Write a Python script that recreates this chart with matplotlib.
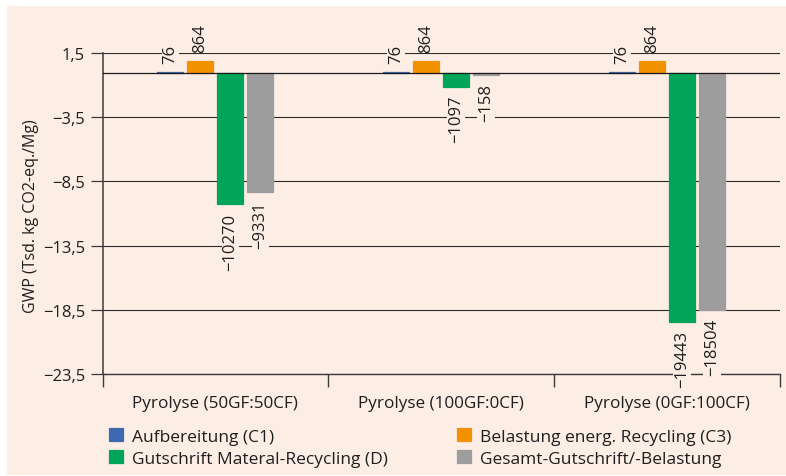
import matplotlib
matplotlib.use("Agg")
import matplotlib.pyplot as plt
from matplotlib.patches import Rectangle
import numpy as np

plt.rcParams['font.family'] = ['Open Sans', 'DejaVu Sans']

categories = ["Pyrolyse (50GF:50CF)", "Pyrolyse (100GF:0CF)", "Pyrolyse (0GF:100CF)"]
series_names = ["Aufbereitung (C1)", "Belastung energ. Recycling (C3)",
                "Gutschrift Materal-Recycling (D)", "Gesamt-Gutschrift/-Belastung"]
aufbereitung = [76, 76, 76]
belastung = [864, 864, 864]
gutschrift = [-10270, -1097, -19443]
gesamt = [-9331, -158, -18504]
yticks = [1.5, -3.5, -8.5, -13.5, -18.5, -23.5]

series = [aufbereitung, belastung, gutschrift, gesamt]
colors = ["#3e68b0", "#f39200", "#00a55a", "#9d9d9d"]
bg = "#fdeee5"
txt = "#1e1e1e"

fig = plt.figure(figsize=(7.86, 4.77), dpi=100)
fig.patch.set_facecolor("white")
fig.patches.append(Rectangle((7/786, 1/477), 1 - 7/786, 469/477,
                             transform=fig.transFigure, facecolor=bg,
                             edgecolor="none", zorder=-10))

ax = fig.add_axes([102.5/786, 1 - 374.7/477, (780 - 102.5)/786, (374.7 - 54.3)/477])
ax.set_facecolor(bg)
ax.patch.set_alpha(0)

x = np.arange(len(categories))
slot = 30/225.8
width = 26/225.8
handles = []
for i, (vals, col, name) in enumerate(zip(series, colors, series_names)):
    pos = x + (i - 1.5) * slot
    v = np.array(vals) / 1000.0
    b = ax.bar(pos, v, width=width, color=col, edgecolor=col, linewidth=0.9,
               label=name, zorder=3)
    handles.append(b)
    for p, val, raw in zip(pos, v, vals):
        lab = str(raw).replace("-", "\u2212")
        if raw >= 0:
            ax.annotate(lab, (p, val), xytext=(0, 6.5), textcoords="offset points",
                        rotation=90, ha="center", va="bottom", fontsize=12,
                        color=txt, annotation_clip=False, zorder=5,
                        bbox=dict(boxstyle="square,pad=0.05", fc=bg, ec="none"))
        else:
            ax.annotate(lab, (p, val), xytext=(0, -6), textcoords="offset points",
                        rotation=90, ha="center", va="top", fontsize=12,
                        color=txt, annotation_clip=False, zorder=5,
                        bbox=dict(boxstyle="square,pad=0.05", fc=bg, ec="none"))

ax.set_xlim(-0.5, len(categories) - 0.5)
ax.set_ylim(yticks[-1], yticks[0])
for yt in yticks:
    ax.axhline(yt, color="#2a2a2a", linewidth=0.8, zorder=1)
ax.axhline(0, color="#1a1a1a", linewidth=0.9, zorder=4)

ax.set_yticks(yticks)
ax.set_yticklabels([f"{t:.1f}".replace(".", ",").replace("-", "\u2212") for t in yticks],
                   fontsize=12, color=txt)
ax.tick_params(axis="y", length=8.6, width=0.9, color="#3a3a3a", pad=4)

ax.set_xticks(x)
ax.set_xticklabels(categories, fontsize=12.3, color=txt)
ax.set_xticks(np.arange(-0.5, len(categories)), minor=True)
ax.tick_params(axis="x", which="major", length=0, pad=15)
ax.tick_params(axis="x", which="minor", length=9, width=1.0, color="#3a3a3a")

for s in ["top", "right"]:
    ax.spines[s].set_visible(False)
ax.spines["left"].set_color("#3a3a3a")
ax.spines["left"].set_linewidth(1.1)
ax.spines["bottom"].set_color("#3a3a3a")
ax.spines["bottom"].set_linewidth(1.0)

fig.text(31/786, 1 - 216/477, "GWP (Tsd. kg CO2-eq./Mg)", rotation=90,
         ha="center", va="center", fontsize=11.5, color=txt)

order = [0, 2, 1, 3]
leg = fig.legend([handles[k] for k in order], [series_names[k] for k in order],
                 loc="upper left", bbox_to_anchor=(109/786, 1 - 429/477), ncol=2,
                 frameon=False, fontsize=12.5, handlelength=0.8, handleheight=0.8,
                 handletextpad=0.55, columnspacing=3.95, labelspacing=0.3,
                 borderaxespad=0, borderpad=0)
for t in leg.get_texts():
    t.set_color(txt)

fig.savefig("out.png", dpi=100, facecolor=fig.get_facecolor())
